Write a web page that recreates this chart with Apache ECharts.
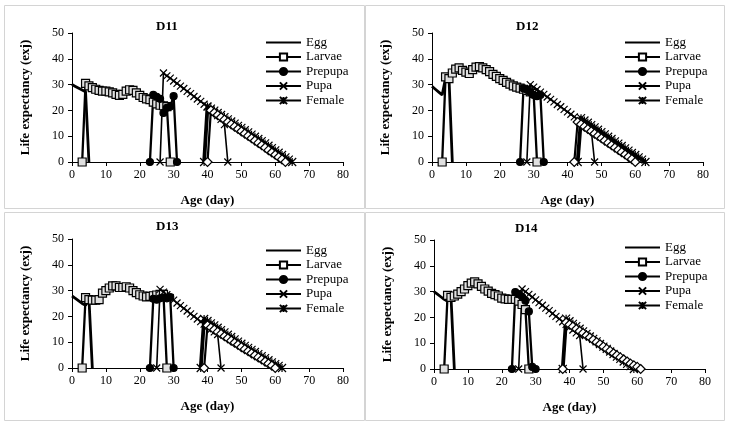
<!DOCTYPE html>
<html>
<head>
<meta charset="utf-8">
<script src="https://cdn.jsdelivr.net/npm/echarts@6/dist/echarts.min.js"></script>
<style>
html, body { margin: 0; padding: 0; background: #fff; }
#main { width: 730px; height: 423px; }
</style>
</head>
<body>
<div id="main"></div>
<script>
// life expectancy (exj) by age, [age, value] pairs
const d11Egg = [[0,30],[1,29.3],[2,28.6],[3,27.9],[4,27.2],[5,0]];
const d11Larvae = [[3,0],[4,30.5],[5,29.5],[6,28.8],[7,28.2],[8,27.8],[9,27.5],[10,27.5],[11,27.2],[12,26.8],[13,26.2],[14,25.8],[15,26.2],[16,27.5],[17,28],[18,27.8],[19,26.8],[20,25.8],[21,25],[22,24.5],[23,24.2],[24,23.2],[25,22.5],[26,22],[27,21.8],[28,21.5],[29,0]];
const d11Prepupa = [[23,0],[24,26],[25,25.3],[26,24.5],[27,19],[28,21],[29,21.5],[30,25.5],[31,0]];
const d11Pupa = [[26,0],[27,34.5],[28,33.4],[29,32.5],[30,31.4],[31,30.5],[32,29.4],[33,28.5],[34,27.4],[35,26.5],[36,25.4],[37,24.4],[38,23.5],[39,22.4],[40,21.5],[41,20.4],[42,19.3],[43,18],[44,16.5],[45,14.5],[46,0]];
const d11Female = [[39,0],[40,21.5],[41,20.7],[42,19.9],[43,19],[44,18.2],[45,17.4],[46,16.5],[47,15.7],[48,14.9],[49,14],[50,13.2],[51,12.3],[52,11.5],[53,10.6],[54,9.8],[55,8.9],[56,8.1],[57,7.2],[58,6.3],[59,5.4],[60,4.5],[61,3.6],[62,2.7],[63,1.8],[64,0.9],[65,0]];
const d11Male = [[40,0],[41,20],[42,19.1],[43,18.2],[44,17.3],[45,16.4],[46,15.5],[47,14.6],[48,13.7],[49,12.8],[50,11.9],[51,11],[52,10.1],[53,9.2],[54,8.3],[55,7.4],[56,6.5],[57,5.6],[58,4.6],[59,3.7],[60,2.8],[61,1.9],[62,1],[63,0]];

const d12Egg = [[0,29.3],[1,28.2],[2,27.1],[3,26],[4,32.5],[5,33],[6,0]];
const d12Larvae = [[3,0],[4,33],[5,32.3],[6,34.5],[7,36],[8,36.5],[9,35.5],[10,34.8],[11,34.3],[12,35.8],[13,36.8],[14,37],[15,36.5],[16,35.8],[17,35],[18,34],[19,33.2],[20,32.3],[21,31.6],[22,30.9],[23,30.2],[24,29.5],[25,29],[26,28.6],[27,28.2],[28,27.8],[29,27.2],[30,26.6],[31,0]];
const d12Prepupa = [[26,0],[27,28.5],[28,28],[29,27],[30,26],[31,25.5],[32,26],[33,0]];
const d12Pupa = [[28,0],[29,30],[30,29],[31,28.1],[32,27.1],[33,26.2],[34,25.2],[35,24.3],[36,23.3],[37,22.3],[38,21.4],[39,20.4],[40,19.4],[41,18.5],[42,17.5],[43,16.5],[44,15.6],[45,14.6],[46,13.6],[47,12.5],[48,0]];
const d12Female = [[43,0],[44,17],[45,16.1],[46,15.2],[47,14.3],[48,13.4],[49,12.5],[50,11.6],[51,10.7],[52,9.8],[53,8.9],[54,8],[55,7.1],[56,6.2],[57,5.3],[58,4.4],[59,3.5],[60,2.7],[61,1.8],[62,0.9],[63,0]];
const d12Male = [[42,0],[43,15.5],[44,14.6],[45,13.7],[46,12.8],[47,11.9],[48,11],[49,10.1],[50,9.2],[51,8.3],[52,7.4],[53,6.5],[54,5.6],[55,4.7],[56,3.8],[57,2.9],[58,2],[59,1.1],[60,0]];

const d13Egg = [[0,27.9],[1,27],[2,26],[3,25],[4,24.3],[5,27],[6,0]];
const d13Larvae = [[3,0],[4,27.3],[5,26.5],[6,26.3],[7,26.3],[8,26.5],[9,29],[10,30],[11,31],[12,31.8],[13,31.8],[14,31.2],[15,31.2],[16,31.5],[17,31],[18,30],[19,29.2],[20,28.4],[21,27.9],[22,27.6],[23,27.8],[24,28],[25,28.3],[26,28.5],[27,28.5],[28,0]];
const d13Prepupa = [[23,0],[24,26.8],[25,26.5],[26,27],[27,27.3],[28,27],[29,27.5],[30,0]];
const d13Pupa = [[25,0],[26,30.5],[27,29.4],[28,28.4],[29,27.3],[30,26.3],[31,25.2],[32,24.2],[33,23.1],[34,22.1],[35,21],[36,20],[37,19],[38,18],[39,17],[40,16],[41,15],[42,14],[43,13],[44,0]];
const d13Female = [[38,0],[39,19],[40,18.2],[41,17.3],[42,16.5],[43,15.6],[44,14.7],[45,13.8],[46,12.9],[47,12],[48,11.1],[49,10.2],[50,9.4],[51,8.6],[52,7.8],[53,7],[54,6.2],[55,5.4],[56,4.6],[57,3.8],[58,3],[59,2.2],[60,1.5],[61,0.8],[62,0]];
const d13Male = [[39,0],[40,16.5],[41,15.7],[42,14.9],[43,14],[44,13.2],[45,12.3],[46,11.5],[47,10.6],[48,9.8],[49,9],[50,8.1],[51,7.3],[52,6.5],[53,5.7],[54,4.9],[55,4.1],[56,3.3],[57,2.5],[58,1.7],[59,0.9],[60,0]];

const d14Egg = [[0,30],[1,29],[2,28],[3,27],[4,26.3],[5,28.5],[6,0]];
const d14Larvae = [[3,0],[4,28.5],[5,27.8],[6,28.3],[7,29],[8,30],[9,31],[10,32.3],[11,33.3],[12,33.8],[13,33],[14,32],[15,31],[16,30.2],[17,29.3],[18,28.8],[19,28.3],[20,27.5],[21,27.2],[22,27],[23,27],[24,27],[25,26.3],[26,25],[27,23],[28,0]];
const d14Prepupa = [[23,0],[24,29.8],[25,29],[26,28],[27,26.5],[28,22.3],[29,0.8],[30,0]];
const d14Pupa = [[25,0],[26,31],[27,30],[28,28.9],[29,27.9],[30,26.8],[31,25.7],[32,24.7],[33,23.6],[34,22.6],[35,21.5],[36,20.4],[37,19.4],[38,18.3],[39,17.3],[40,16.2],[41,15.1],[42,14],[43,13],[44,0]];
const d14Female = [[38,0],[39,19.5],[40,18.5],[41,17.5],[42,16.6],[43,15.6],[44,14.6],[45,13.6],[46,12.6],[47,11.7],[48,10.7],[49,9.7],[50,8.7],[51,7.8],[52,6.8],[53,5.8],[54,4.8],[55,3.9],[56,2.9],[57,2],[58,1.1],[59,0]];
const d14Male = [[38,0],[39,18],[40,17.2],[41,16.4],[42,15.5],[43,14.7],[44,13.9],[45,13],[46,12.2],[47,11.3],[48,10.4],[49,9.6],[50,8.7],[51,7.8],[52,7],[53,6.1],[54,5.3],[55,4.5],[56,3.7],[57,2.9],[58,2.1],[59,1.4],[60,0.8],[61,0]];

const panelNames = ['D11', 'D12', 'D13', 'D14'];
const stageNames = ['Egg', 'Larvae', 'Prepupa', 'Pupa', 'Female'];
const panelData = [
  [d11Egg, d11Larvae, d11Prepupa, d11Pupa, d11Female, d11Male],
  [d12Egg, d12Larvae, d12Prepupa, d12Pupa, d12Female, d12Male],
  [d13Egg, d13Larvae, d13Prepupa, d13Pupa, d13Female, d13Male],
  [d14Egg, d14Larvae, d14Prepupa, d14Pupa, d14Female, d14Male]
];

// layout of the four panels
const grids = [
  {left: 72, top: 33, width: 271, height: 129},
  {left: 432, top: 33, width: 271, height: 129},
  {left: 72, top: 239, width: 271, height: 129},
  {left: 434, top: 240, width: 271, height: 129}
];
const titlePos = [[151, 15], [511, 15], [151, 215], [510, 217]];
const legendPos = [[260, 31], [619, 31], [260, 239], [619, 236]];
const boxes = [[4.5, 5.5, 360, 203], [365.5, 5.5, 359, 203], [4.5, 212.5, 360, 208], [365.5, 212.5, 359, 208]];

const serif = '"Liberation Serif", "Times New Roman", serif';
const xMark = 'path://M0,0L10,10M10,0L0,10';
const starMark = 'path://M0,0L10,10M10,0L0,10M5,0L5,10';

// marker / line look per stage (Male has no legend entry)
const stageStyle = [
  {name: 'Egg', symbol: 'none', size: 0, fill: '#000', lw: 2.8},
  {name: 'Larvae', symbol: 'rect', size: 8, fill: '#e0e0e0', lw: 2.3},
  {name: 'Prepupa', symbol: 'circle', size: 7, fill: '#000', lw: 2.3},
  {name: 'Pupa', symbol: xMark, size: 7, fill: '#000', lw: 1.6},
  {name: 'Female', symbol: starMark, size: 8, fill: '#000', lw: 3.8},
  {name: 'Male', symbol: 'diamond', size: 9, fill: '#fff', lw: 2.2}
];

var series = [];
panelData.forEach(function (sets, p) {
  sets.forEach(function (data, s) {
    var st = stageStyle[s];
    series.push({
      name: st.name,
      type: 'line',
      xAxisIndex: p,
      yAxisIndex: p,
      data: data,
      symbol: st.symbol,
      symbolSize: st.size,
      showSymbol: st.symbol !== 'none',
      lineStyle: {color: '#000', width: st.lw},
      itemStyle: {color: st.fill, borderColor: '#000', borderWidth: 1.2},
      emphasis: {disabled: true}
    });
  });
});

function legendItem(n) {
  if (n === 'Larvae') return {name: n, itemStyle: {color: '#fff'}};
  if (n === 'Egg') return {name: n, itemStyle: {opacity: 0}};
  return n;
}

var option = {
  animation: false,
  backgroundColor: '#fff',
  title: panelNames.map(function (n, i) {
    return {text: n, left: titlePos[i][0], top: titlePos[i][1],
      textStyle: {fontFamily: serif, fontSize: 13, fontWeight: 'bold', color: '#000'}};
  }),
  legend: legendPos.map(function (pos, i) {
    return {
      orient: 'vertical', left: pos[0], top: pos[1],
      itemWidth: 35, itemHeight: 9, itemGap: 1.5,
      data: stageNames.map(legendItem),
      textStyle: {fontFamily: serif, fontSize: 13, color: '#000'},
      selectedMode: false
    };
  }),
  grid: grids,
  xAxis: grids.map(function (g, i) {
    return {
      type: 'value', gridIndex: i, min: 0, max: 80, interval: 10,
      name: 'Age (day)', nameLocation: 'middle', nameGap: 32,
      nameTextStyle: {fontFamily: serif, fontSize: 13, fontWeight: 'bold', color: '#000'},
      axisLine: {lineStyle: {color: '#000', width: 1}},
      axisTick: {show: true, length: 4, lineStyle: {color: '#000'}},
      axisLabel: {fontFamily: serif, fontSize: 12, color: '#000', margin: 7},
      splitLine: {show: false}
    };
  }),
  yAxis: grids.map(function (g, i) {
    return {
      type: 'value', gridIndex: i, min: 0, max: 50, interval: 10,
      name: 'Life expectancy (exj)', nameLocation: 'middle', nameGap: 40,
      nameTextStyle: {fontFamily: serif, fontSize: 13, fontWeight: 'bold', color: '#000'},
      axisLine: {show: true, lineStyle: {color: '#000', width: 1}},
      axisTick: {show: true, length: 4, lineStyle: {color: '#000'}},
      axisLabel: {fontFamily: serif, fontSize: 12, color: '#000', margin: 8},
      splitLine: {show: false}
    };
  }),
  graphic: boxes.map(function (b) {
    return {type: 'rect', silent: true, z: -1,
      shape: {x: b[0], y: b[1], width: b[2], height: b[3]},
      style: {fill: 'none', stroke: '#d4d4d4', lineWidth: 1}};
  }),
  series: series
};

var myChart = echarts.init(document.getElementById('main'));
myChart.setOption(option);
</script>
</body>
</html>
